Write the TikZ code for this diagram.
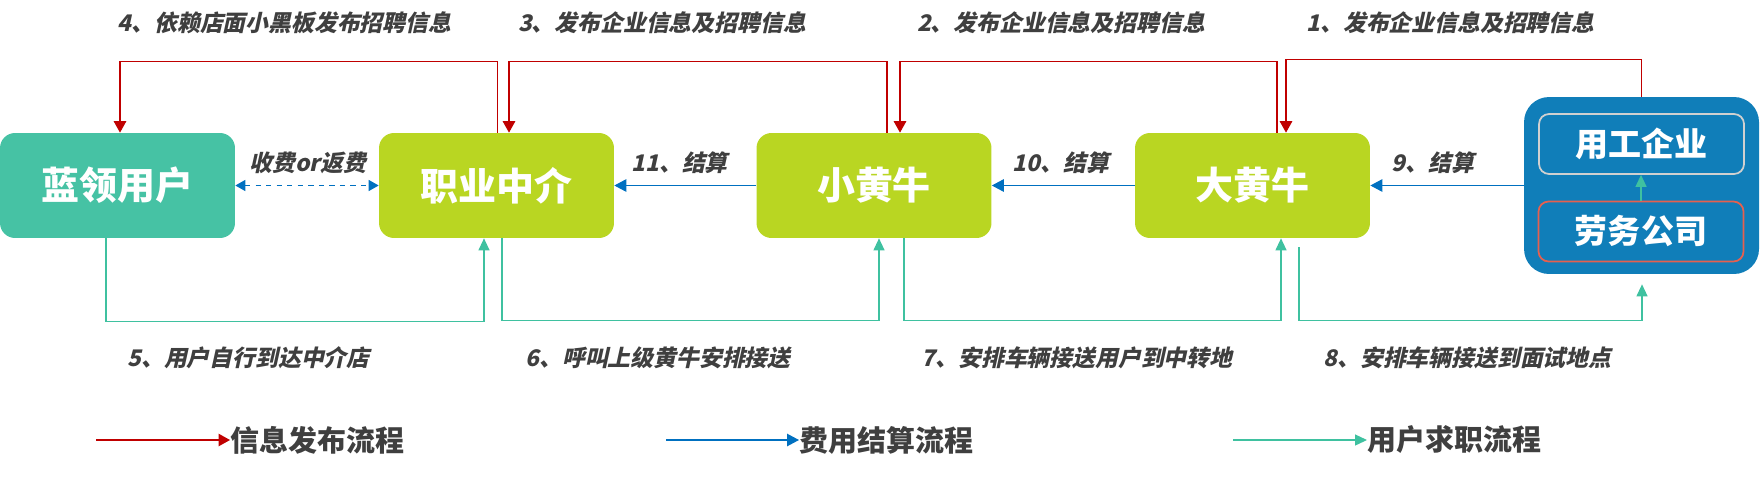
\documentclass[tikz,border=0pt]{standalone}
\usepackage{fontspec}
\setmainfont{Noto Sans CJK SC}
\newfontfamily\labfont{Noto Sans CJK SC}[FakeSlant=0.22, BoldFeatures={FakeSlant=0.22}]
\usetikzlibrary{arrows.meta}
\usetikzlibrary{calc}
\definecolor{userteal}{HTML}{46C2A4}
\definecolor{limegreen}{HTML}{B9D622}
\definecolor{compblue}{HTML}{107EB9}
\definecolor{infored}{HTML}{C00000}
\definecolor{payblue}{HTML}{0070C0}
\definecolor{jobteal}{HTML}{3FC1A0}
\definecolor{labgray}{HTML}{3F3F3F}
\definecolor{firmgray}{HTML}{D0D0D0}
\definecolor{labourred}{HTML}{E5604F}
\tikzset{
    usernode/.style = {rectangle, rounded corners=0.3cm, fill=userteal, minimum width=4.7cm, minimum height=2.1cm, inner sep=0, font=\fontsize{21.6}{24}\selectfont\bfseries, text=white},
    agentnode/.style = {usernode, fill=limegreen},
    compnode/.style = {rectangle, rounded corners=0.5cm, fill=compblue, minimum width=4.7cm, minimum height=3.54cm, inner sep=0},
    firmnode/.style = {rectangle, rounded corners=0.2cm, draw=firmgray, line width=1pt, minimum width=4.1cm, minimum height=1.2cm, inner sep=0, font=\fontsize{18.8}{22}\selectfont\bfseries, text=white},
    labournode/.style = {firmnode, draw=labourred},
    lab/.style = {font=\labfont\fontsize{13}{15}\selectfont\bfseries, text=labgray, inner sep=0},
    legtext/.style = {anchor=west, font=\fontsize{16.5}{19}\selectfont\bfseries, text=labgray, inner sep=0},
    edgeinfo/.style = {-{Triangle[length=0.23cm,width=0.25cm]}, line width=0.7pt, infored},
    edgepay/.style = {-{Triangle[length=0.24cm,width=0.25cm]}, line width=0.7pt, payblue},
    edgepayd/.style = {{Triangle[length=0.2cm,width=0.22cm]}-{Triangle[length=0.2cm,width=0.22cm]}, line width=0.7pt, payblue, dashed},
    edgejob/.style = {-{Triangle[length=0.24cm,width=0.22cm]}, line width=0.7pt, jobteal},
}

\begin{document}
\begin{tikzpicture}[x=0.02cm, y=-0.02cm]
\useasboundingbox (0,0) rectangle (1760,477);

\node[usernode] at (117.5,185.5) (user) {蓝领用户};
\node[agentnode] at (496.5,185.5) (agent) {职业中介};
\node[agentnode] at (874,185.5) (small) {小黄牛};
\node[agentnode] at (1252.5,185.5) (big) {大黄牛};
\node[compnode] at (1641.5,185.5) (comp) {};
\node[firmnode] at (1641.5,144) (firm) {用工企业};
\node[labournode] at (1641,231.5) (labour) {劳务公司};

% info
\draw[edgeinfo] (comp.north) -- ++(0,-37) -| ($(big.north)+(33.5,0)$);
\draw[edgeinfo] ($(big.north)+(24.5,0)$) -- ++(0,-71) -| ($(small.north)+(26,0)$);
\draw[edgeinfo] ($(small.north)+(13,0)$) -- ++(0,-71) -| ($(agent.north)+(12.5,0)$);
\draw[edgeinfo] ($(agent.north)+(1,0)$) -- ++(0,-71) -| ($(user.north)+(2.5,0)$);

% pay
\draw[edgepay] (comp.west) -- (big.east);
\draw[edgepay] (big.west) -- (small.east);
\draw[edgepay] (small.west) -- (agent.east);
\draw[edgepayd] (user.east) -- (agent.west);

% job
\draw[edgejob] ($(user.south)+(-11.5,0)$) -- ++(0,83) -| ($(agent.south)+(-12.5,0)$);
\draw[edgejob] ($(agent.south)+(5.5,0)$) -- ++(0,82) -| ($(small.south)+(5,0)$);
\draw[edgejob] ($(small.south)+(30,0)$) -- ++(0,82) -| ($(big.south)+(28.5,0)$);
\draw[edgejob] ($(big.south)+(46.5,9)$) -- ++(0,73) -| ($(comp.south)+(0.5,10)$);
\draw[edgejob] (labour.north) -- (labour.north |- firm.south);

\node[lab] at (284.5,23) (l4) {4、依赖店面小黑板发布招聘信息};
\node[lab] at (662,23) (l3) {3、发布企业信息及招聘信息};
\node[lab] at (1061,23) (l2) {2、发布企业信息及招聘信息};
\node[lab] at (1450.5,23) (l1) {1、发布企业信息及招聘信息};
\node[lab] at (308,163) (lfee) {收费or返费};
\node[lab] at (679.5,163) (l11) {11、结算};
\node[lab] at (1061,163) (l10) {10、结算};
\node[lab] at (1433,163) (l9) {9、结算};
\node[lab] at (248.5,358) (l5) {5、用户自行到达中介店};
\node[lab] at (658,358) (l6) {6、呼叫上级黄牛安排接送};
\node[lab] at (1077,358) (l7) {7、安排车辆接送用户到中转地};
\node[lab] at (1467.5,358) (l8) {8、安排车辆接送到面试地点};

% legend
\node[legtext] at (230,440) (leginfo) {信息发布流程};
\node[legtext] at (799,440) (legpay) {费用结算流程};
\node[legtext] at (1367,440) (legjob) {用户求职流程};
\coordinate (leginfo0) at (96,440);
\coordinate (legpay0) at (666,440);
\coordinate (legjob0) at (1233,440);
\draw[edgeinfo] (leginfo0) -- (leginfo.west);
\draw[edgepay] (legpay0) -- (legpay.west);
\draw[edgejob] (legjob0) -- (legjob.west);

\end{tikzpicture}
\end{document}
